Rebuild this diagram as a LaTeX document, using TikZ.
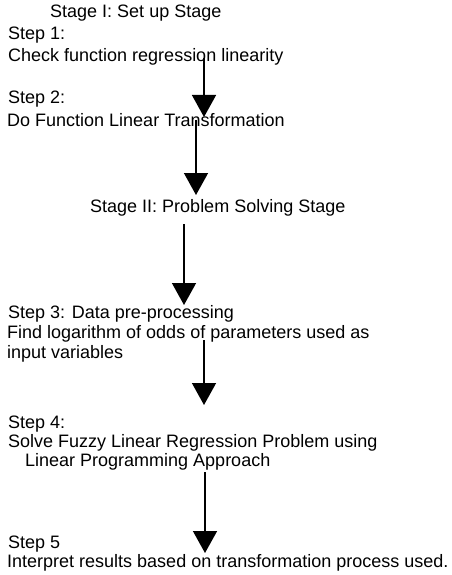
\documentclass[tikz,border=0pt]{standalone}
\usepackage{fontspec}
\setmainfont{Liberation Sans}
\usetikzlibrary{arrows.meta}
\begin{document}
\begin{tikzpicture}[x=1pt,y=-1pt,
  txt/.style={anchor=base west,inner sep=0pt,font=\fontsize{18}{20}\selectfont},
  flow/.style={line width=1.5pt,-{Triangle[width=24pt,length=22pt]}}]
\useasboundingbox (0,0) rectangle (451,575);
\node[txt] (s1) at (50,18) {Stage I: Set up Stage};
\node[txt] (p1) at (8,40) {Step 1:};
\node[txt] (p1b) at (8,62) {Check function regression linearity};
\node[txt] (p2) at (8,104) {Step 2:};
\node[txt] (p2b) at (7,126) {Do Function Linear Transformation};
\node[txt] (s2) at (90,212) {Stage II: Problem Solving Stage};
\node[txt] (p3) at (8,318) {Step 3: Data pre-processing};
\node[txt] (p3b) at (7,338) {Find logarithm of odds of parameters used as};
\node[txt] (p3c) at (7,358) {input variables};
\node[txt] (p4) at (8,428) {Step 4:};
\node[txt] (p4b) at (8,447) {Solve Fuzzy Linear Regression Problem using};
\node[txt] (p4c) at (25,466) {Linear Programming Approach};
\node[txt] (p5) at (8,548) {Step 5};
\node[txt] (p5b) at (7,567) {Interpret results based on transformation process used.};
\coordinate (a1s) at (204,58); \coordinate (a1e) at (204,117);
\coordinate (a2s) at (196,120); \coordinate (a2e) at (196,195);
\coordinate (a3s) at (184,224); \coordinate (a3e) at (184,305);
\coordinate (a4s) at (204,340); \coordinate (a4e) at (204,405);
\coordinate (a5s) at (205,472); \coordinate (a5e) at (205,553);
\draw[flow] (a1s) -- (a1e);
\draw[flow] (a2s) -- (a2e);
\draw[flow] (a3s) -- (a3e);
\draw[flow] (a4s) -- (a4e);
\draw[flow] (a5s) -- (a5e);
\end{tikzpicture}
\end{document}
